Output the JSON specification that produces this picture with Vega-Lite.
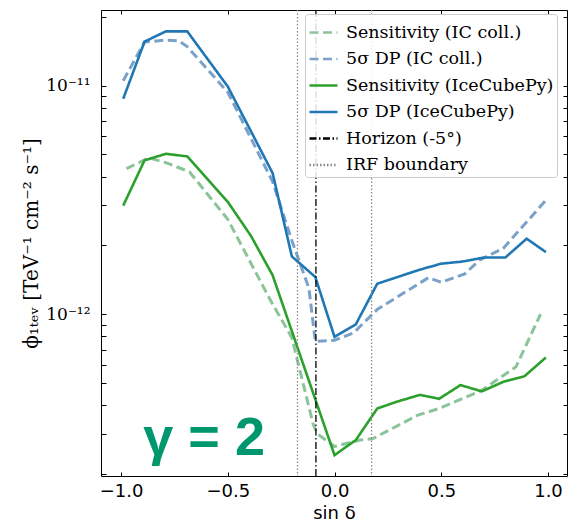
{
  "$schema": "https://vega.github.io/schema/vega-lite/v6.json",
  "width": 466,
  "height": 466,
  "autosize": "none",
  "padding": {"left": 101, "top": 10, "right": 1, "bottom": 46},
  "background": "white",
  "config": {
    "view": {"stroke": "#000000", "strokeWidth": 1},
    "font": "DejaVu Sans",
    "axis": {"grid": false, "domain": false, "tickColor": "#000000", "tickWidth": 1, "labelColor": "#000000", "titleColor": "#000000", "titleFontWeight": "normal"}
  },
  "datasets": {
    "dashed": [
      {"series": "Sensitivity (IC coll.)", "x": -0.975, "y": 4.33e-12},
      {"series": "Sensitivity (IC coll.)", "x": -0.87, "y": 4.83e-12},
      {"series": "Sensitivity (IC coll.)", "x": -0.79, "y": 4.6e-12},
      {"series": "Sensitivity (IC coll.)", "x": -0.68, "y": 4.2e-12},
      {"series": "Sensitivity (IC coll.)", "x": -0.5, "y": 2.6e-12},
      {"series": "Sensitivity (IC coll.)", "x": -0.3, "y": 1.15e-12},
      {"series": "Sensitivity (IC coll.)", "x": -0.2, "y": 7.9e-13},
      {"series": "Sensitivity (IC coll.)", "x": -0.1, "y": 3.3e-13},
      {"series": "Sensitivity (IC coll.)", "x": -0.08, "y": 3.0e-13},
      {"series": "Sensitivity (IC coll.)", "x": 0.0, "y": 2.64e-13},
      {"series": "Sensitivity (IC coll.)", "x": 0.12, "y": 2.82e-13},
      {"series": "Sensitivity (IC coll.)", "x": 0.18, "y": 2.86e-13},
      {"series": "Sensitivity (IC coll.)", "x": 0.39, "y": 3.62e-13},
      {"series": "Sensitivity (IC coll.)", "x": 0.49, "y": 3.87e-13},
      {"series": "Sensitivity (IC coll.)", "x": 0.69, "y": 4.65e-13},
      {"series": "Sensitivity (IC coll.)", "x": 0.85, "y": 5.89e-13},
      {"series": "Sensitivity (IC coll.)", "x": 0.965, "y": 1.0e-12},
      {"series": "5σ DP (IC coll.)", "x": -0.99, "y": 1.05e-11},
      {"series": "5σ DP (IC coll.)", "x": -0.89, "y": 1.55e-11},
      {"series": "5σ DP (IC coll.)", "x": -0.79, "y": 1.58e-11},
      {"series": "5σ DP (IC coll.)", "x": -0.73, "y": 1.57e-11},
      {"series": "5σ DP (IC coll.)", "x": -0.69, "y": 1.48e-11},
      {"series": "5σ DP (IC coll.)", "x": -0.5, "y": 9.35e-12},
      {"series": "5σ DP (IC coll.)", "x": -0.29, "y": 3.8e-12},
      {"series": "5σ DP (IC coll.)", "x": -0.2, "y": 2.1e-12},
      {"series": "5σ DP (IC coll.)", "x": -0.12, "y": 1.3e-12},
      {"series": "5σ DP (IC coll.)", "x": -0.09, "y": 7.6e-13},
      {"series": "5σ DP (IC coll.)", "x": 0.0, "y": 7.7e-13},
      {"series": "5σ DP (IC coll.)", "x": 0.09, "y": 8.3e-13},
      {"series": "5σ DP (IC coll.)", "x": 0.2, "y": 1.05e-12},
      {"series": "5σ DP (IC coll.)", "x": 0.44, "y": 1.445e-12},
      {"series": "5σ DP (IC coll.)", "x": 0.5, "y": 1.38e-12},
      {"series": "5σ DP (IC coll.)", "x": 0.61, "y": 1.5e-12},
      {"series": "5σ DP (IC coll.)", "x": 0.68, "y": 1.73e-12},
      {"series": "5σ DP (IC coll.)", "x": 0.79, "y": 1.94e-12},
      {"series": "5σ DP (IC coll.)", "x": 0.99, "y": 3.15e-12}
    ],
    "solid": [
      {"series": "Sensitivity (IceCubePy)", "x": -0.99, "y": 2.985e-12},
      {"series": "Sensitivity (IceCubePy)", "x": -0.89, "y": 4.71e-12},
      {"series": "Sensitivity (IceCubePy)", "x": -0.79, "y": 5.03e-12},
      {"series": "Sensitivity (IceCubePy)", "x": -0.69, "y": 4.9e-12},
      {"series": "Sensitivity (IceCubePy)", "x": -0.5, "y": 3.1e-12},
      {"series": "Sensitivity (IceCubePy)", "x": -0.39, "y": 2.19e-12},
      {"series": "Sensitivity (IceCubePy)", "x": -0.29, "y": 1.48e-12},
      {"series": "Sensitivity (IceCubePy)", "x": 0.0, "y": 2.42e-13},
      {"series": "Sensitivity (IceCubePy)", "x": 0.1, "y": 2.82e-13},
      {"series": "Sensitivity (IceCubePy)", "x": 0.2, "y": 3.87e-13},
      {"series": "Sensitivity (IceCubePy)", "x": 0.29, "y": 4.14e-13},
      {"series": "Sensitivity (IceCubePy)", "x": 0.4, "y": 4.44e-13},
      {"series": "Sensitivity (IceCubePy)", "x": 0.49, "y": 4.27e-13},
      {"series": "Sensitivity (IceCubePy)", "x": 0.59, "y": 4.9e-13},
      {"series": "Sensitivity (IceCubePy)", "x": 0.69, "y": 4.6e-13},
      {"series": "Sensitivity (IceCubePy)", "x": 0.79, "y": 5.06e-13},
      {"series": "Sensitivity (IceCubePy)", "x": 0.89, "y": 5.36e-13},
      {"series": "Sensitivity (IceCubePy)", "x": 0.99, "y": 6.47e-13},
      {"series": "5σ DP (IceCubePy)", "x": -0.99, "y": 8.75e-12},
      {"series": "5σ DP (IceCubePy)", "x": -0.89, "y": 1.556e-11},
      {"series": "5σ DP (IceCubePy)", "x": -0.79, "y": 1.726e-11},
      {"series": "5σ DP (IceCubePy)", "x": -0.69, "y": 1.726e-11},
      {"series": "5σ DP (IceCubePy)", "x": -0.5, "y": 9.9e-12},
      {"series": "5σ DP (IceCubePy)", "x": -0.29, "y": 4.14e-12},
      {"series": "5σ DP (IceCubePy)", "x": -0.2, "y": 1.79e-12},
      {"series": "5σ DP (IceCubePy)", "x": -0.09, "y": 1.455e-12},
      {"series": "5σ DP (IceCubePy)", "x": 0.0, "y": 7.96e-13},
      {"series": "5σ DP (IceCubePy)", "x": 0.1, "y": 9.04e-13},
      {"series": "5σ DP (IceCubePy)", "x": 0.2, "y": 1.36e-12},
      {"series": "5σ DP (IceCubePy)", "x": 0.4, "y": 1.567e-12},
      {"series": "5σ DP (IceCubePy)", "x": 0.5, "y": 1.664e-12},
      {"series": "5σ DP (IceCubePy)", "x": 0.6, "y": 1.7e-12},
      {"series": "5σ DP (IceCubePy)", "x": 0.7, "y": 1.77e-12},
      {"series": "5σ DP (IceCubePy)", "x": 0.8, "y": 1.77e-12},
      {"series": "5σ DP (IceCubePy)", "x": 0.9, "y": 2.14e-12},
      {"series": "5σ DP (IceCubePy)", "x": 0.99, "y": 1.87e-12}
    ],
    "rules": [
      {"series": "Horizon (-5°)", "x": -0.0872},
      {"series": "IRF boundary", "x": -0.1736},
      {"series": "IRF boundary", "x": 0.1736}
    ],
    "note": [
      {"label": "γ = 2", "x": -0.611, "y": 2.42e-13}
    ]
  },
  "resolve": {"axis": {"x": "independent", "y": "independent"}},
  "layer": [
    {
      "data": {"name": "dashed"},
      "mark": {"type": "line", "clip": true, "strokeWidth": 3},
      "encoding": {
        "x": {"field": "x", "type": "quantitative", "scale": {"domain": [-1.094, 1.089], "nice": false, "zero": false},
              "axis": {"orient": "bottom", "values": [-1, -0.5, 0, 0.5, 1], "format": ".1f", "tickSize": -4, "labelPadding": 10, "labelFont": "DejaVu Sans", "labelFontSize": 18, "title": "sin δ", "titleFont": "DejaVu Sans", "titleFontSize": 18, "titlePadding": 4}},
        "y": {"field": "y", "type": "quantitative", "scale": {"type": "log", "domain": [1.962e-13, 2.14e-11], "nice": false},
              "axis": {"orient": "left", "values": [2e-13, 3e-13, 4e-13, 5e-13, 6e-13, 7e-13, 8e-13, 9e-13, 1e-12, 2e-12, 3e-12, 4e-12, 5e-12, 6e-12, 7e-12, 8e-12, 9e-12, 1e-11, 2e-11],
                       "labelExpr": "datum.value == 1e-11 ? '10⁻¹¹' : (datum.value == 1e-12 ? '10⁻¹²' : '')",
                       "tickSize": -5, "labelPadding": 16, "labelFont": "DejaVu Serif", "labelFontSize": 17,
                       "title": "ϕ₁ₜₑᵥ [TeV⁻¹ cm⁻² s⁻¹]", "titleFont": "DejaVu Serif", "titleFontSize": 20, "titlePadding": 4}},
        "order": {"field": "x", "type": "quantitative"},
        "color": {"field": "series", "type": "nominal",
                  "scale": {"domain": ["Sensitivity (IC coll.)", "5σ DP (IC coll.)", "Sensitivity (IceCubePy)", "5σ DP (IceCubePy)", "Horizon (-5°)", "IRF boundary"],
                            "range": ["#8cc49a", "#7ba1c9", "#2ca02c", "#1f77b4", "#000000", "#888888"]},
                  "legend": {"title": null, "orient": "none", "legendX": 204, "legendY": 4, "symbolType": "stroke", "symbolSize": 784, "symbolStrokeWidth": 2.6, "labelFont": "DejaVu Serif", "labelFontSize": 17.5, "labelLimit": 300, "labelOffset": 7, "rowPadding": 2.5, "padding": 3, "fillColor": "rgba(255,255,255,0.85)", "strokeColor": "#cccccc", "cornerRadius": 3}},
        "strokeDash": {"field": "series", "type": "nominal",
                  "scale": {"domain": ["Sensitivity (IC coll.)", "5σ DP (IC coll.)", "Sensitivity (IceCubePy)", "5σ DP (IceCubePy)", "Horizon (-5°)", "IRF boundary"],
                            "range": [[9, 4.5], [9, 4.5], [1, 0], [1, 0], [7, 2.5, 1.5, 2.5], [1.5, 2]]},
                  "legend": {"title": null}}
      }
    },
    {
      "data": {"name": "solid"},
      "mark": {"type": "line", "clip": true, "strokeWidth": 2.6},
      "encoding": {
        "x": {"field": "x", "type": "quantitative", "axis": null},
        "y": {"field": "y", "type": "quantitative", "axis": null},
        "order": {"field": "x", "type": "quantitative"},
        "color": {"field": "series", "type": "nominal"},
        "strokeDash": {"field": "series", "type": "nominal"}
      }
    },
    {
      "data": {"name": "rules"},
      "mark": {"type": "rule", "strokeWidth": 1.3},
      "encoding": {
        "x": {"field": "x", "type": "quantitative", "axis": null},
        "color": {"field": "series", "type": "nominal"},
        "strokeDash": {"field": "series", "type": "nominal"}
      }
    },
    {
      "data": {"name": "note"},
      "mark": {"type": "text", "font": "Liberation Sans", "fontWeight": "bold", "fontSize": 54, "color": "#00966e", "align": "center", "baseline": "alphabetic"},
      "encoding": {
        "x": {"field": "x", "type": "quantitative", "axis": {"orient": "top", "values": [-1, -0.5, 0, 0.5, 1], "labels": false, "tickSize": -4, "title": null}},
        "y": {"field": "y", "type": "quantitative", "axis": {"orient": "right", "values": [2e-13, 3e-13, 4e-13, 5e-13, 6e-13, 7e-13, 8e-13, 9e-13, 1e-12, 2e-12, 3e-12, 4e-12, 5e-12, 6e-12, 7e-12, 8e-12, 9e-12, 1e-11, 2e-11], "labels": false, "tickSize": -4, "title": null}},
        "text": {"field": "label"}
      }
    }
  ]
}
